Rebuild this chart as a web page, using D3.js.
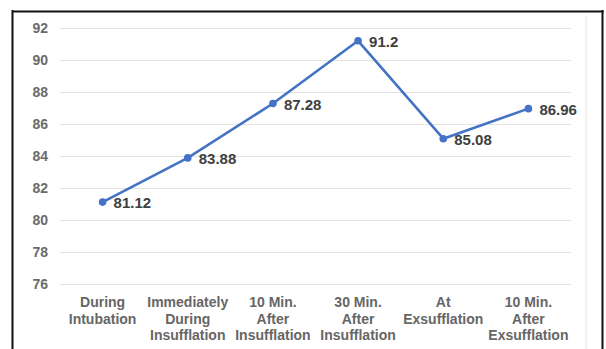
<!DOCTYPE html>
<html>
<head>
<meta charset="utf-8">
<script src="https://cdn.jsdelivr.net/npm/d3@7"></script>
<style>
html, body { margin: 0; padding: 0; background: #fff; }
svg { display: block; }
</style>
</head>
<body>
<script>
const categories = [
  ["During", "Intubation"],
  ["Immediately", "During", "Insufflation"],
  ["10 Min.", "After", "Insufflation"],
  ["30 Min.", "After", "Insufflation"],
  ["At", "Exsufflation"],
  ["10 Min.", "After", "Exsufflation"]
];
const values = [81.12, 83.88, 87.28, 91.2, 85.08, 86.96];
const valueLabels = ["81.12", "83.88", "87.28", "91.2", "85.08", "86.96"];
const yTicks = [76, 78, 80, 82, 84, 86, 88, 90, 92];

const W = 606, H = 349;
const svg = d3.select("body").append("svg").attr("width", W).attr("height", H);

// frame
svg.append("line").attr("x1", 12.5).attr("x2", 12.5).attr("y1", 10).attr("y2", H).attr("stroke", "#111").attr("stroke-width", 2);
svg.append("line").attr("x1", 12).attr("x2", 603.5).attr("y1", 11.5).attr("y2", 11.5).attr("stroke", "#111").attr("stroke-width", 2);
svg.append("line").attr("x1", 602.5).attr("x2", 602.5).attr("y1", 10).attr("y2", H).attr("stroke", "#111").attr("stroke-width", 2);
svg.append("line").attr("x1", 586).attr("x2", 586).attr("y1", 17).attr("y2", H).attr("stroke", "#ececec").attr("stroke-width", 1.5);

const idx = d3.range(categories.length);
const x = d3.scaleBand().domain(idx).range([60, 571]);
const y = d3.scaleLinear().domain([76, 92]).range([284, 28]);

// gridlines
svg.append("g").selectAll("line").data(yTicks).join("line")
  .attr("x1", 60).attr("x2", 571)
  .attr("y1", d => Math.round(y(d)) + 0.5).attr("y2", d => Math.round(y(d)) + 0.5)
  .attr("stroke", "#e3e3e3").attr("stroke-width", 1);

// y axis labels
const yAxis = d3.axisLeft(y).tickValues(yTicks).tickSize(0).tickPadding(0);
const gy = svg.append("g").attr("transform", "translate(48,0)").call(yAxis);
gy.select(".domain").remove();
gy.selectAll("text")
  .attr("font-family", "Liberation Sans, Arial, sans-serif")
  .attr("font-size", 14).attr("font-weight", "bold").attr("fill", "#6b6b6b");

// x axis labels
const xAxis = d3.axisBottom(x).tickSize(0).tickFormat(() => "");
const gx = svg.append("g").attr("transform", "translate(0,284)").call(xAxis);
gx.select(".domain").remove();
gx.selectAll(".tick").each(function(d) {
  const t = d3.select(this).append("text")
    .attr("text-anchor", "middle")
    .attr("font-family", "Liberation Sans, Arial, sans-serif")
    .attr("font-size", 14).attr("font-weight", "bold").attr("fill", "#666");
  categories[d].forEach((line, i) => {
    t.append("tspan").attr("x", 0).attr("y", 23 + i * 16.5).text(line);
  });
});

const cx = i => x(i) + x.bandwidth() / 2;

// line
svg.append("path")
  .datum(values)
  .attr("fill", "none").attr("stroke", "#4472C4").attr("stroke-width", 2.6)
  .attr("stroke-linejoin", "round")
  .attr("d", d3.line().x((d, i) => cx(i)).y(d => y(d)));

svg.append("g").selectAll("circle").data(values).join("circle")
  .attr("cx", (d, i) => cx(i)).attr("cy", d => y(d)).attr("r", 3.8)
  .attr("fill", "#4472C4");

svg.append("g").selectAll("text").data(values).join("text")
  .attr("x", (d, i) => cx(i) + 11).attr("y", d => y(d) + 6)
  .attr("font-family", "Liberation Sans, Arial, sans-serif")
  .attr("font-size", 15).attr("font-weight", "bold").attr("fill", "#404040")
  .text((d, i) => valueLabels[i]);
</script>
</body>
</html>
